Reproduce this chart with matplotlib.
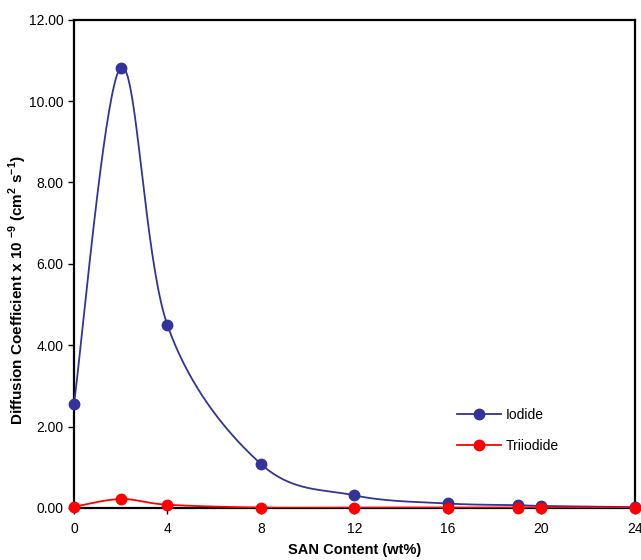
"""
Diffusion coefficients of iodide and triiodide vs SAN content
"""

import numpy as np
import matplotlib
matplotlib.use("Agg")
import matplotlib.pyplot as plt

plt.rcParams['font.family'] = ['Liberation Sans', 'DejaVu Sans']
plt.rcParams['mathtext.fontset'] = 'custom'
plt.rcParams['mathtext.rm'] = 'Liberation Sans'
plt.rcParams['mathtext.bf'] = 'Liberation Sans:bold'

# Data
san_content = [0, 2, 4, 8, 12, 16, 19, 20, 24]
iodide = [2.56, 10.82, 4.49, 1.08, 0.31, 0.11, 0.07, 0.05, 0.02]
triiodide = [0.03, 0.22, 0.08, 0.01, 0.01, 0.01, 0.01, 0.01, 0.01]
x_ticks = [0, 4, 8, 12, 16, 20, 24]
y_ticks = [0, 2, 4, 6, 8, 10, 12]


def smooth(x, y, n=40):
    """Excel-like smoothed line (cubic bezier between points)."""
    x = np.asarray(x, float)
    y = np.asarray(y, float)
    pts = np.column_stack([x, y])
    out = []
    for i in range(len(pts) - 1):
        p0 = pts[i - 1] if i > 0 else pts[i]
        p1 = pts[i]
        p2 = pts[i + 1]
        p3 = pts[i + 2] if i + 2 < len(pts) else pts[i + 1]
        c1 = p1 + (p2 - p0) / 6
        c2 = p2 - (p3 - p1) / 6
        t = np.linspace(0, 1, n)[:, None]
        seg = ((1 - t) ** 3) * p1 + 3 * ((1 - t) ** 2) * t * c1 \
            + 3 * (1 - t) * t ** 2 * c2 + t ** 3 * p2
        out.append(seg if i == 0 else seg[1:])
    res = np.vstack(out)
    return res[:, 0], res[:, 1]


fig = plt.figure(figsize=(6.41, 5.6), dpi=100)
ax = fig.add_axes([0.1154, 0.0929, 0.875, 0.872])

blue = '#333399'
red = '#ff0000'

sx, sy = smooth(san_content, iodide)
ax.plot(sx, sy, color=blue, lw=1.3, zorder=3)
ax.plot(san_content, iodide, 'o', color=blue, ms=7.5, zorder=4, clip_on=False)

tx, ty = smooth(san_content, triiodide)
ax.plot(tx, ty, color=red, lw=1.3, zorder=5)
ax.plot(san_content, triiodide, 'o', color=red, ms=7.5, zorder=6, clip_on=False)

# legend handles
ax.plot([], [], '-o', color=blue, lw=1.3, ms=7.5, label='Iodide')
ax.plot([], [], '-o', color=red, lw=1.3, ms=7.5, label='Triiodide')
ax.legend(loc='upper left', bbox_to_anchor=(0.66, 0.23), frameon=False,
          fontsize=10, handlelength=3.2, labelspacing=1.2, handletextpad=0.3)

ax.set_xlim(0, 24)
ax.set_ylim(0, 12)
ax.set_xticks(x_ticks)
ax.set_yticks(y_ticks)
ax.set_yticklabels([f"{v:.2f}" for v in y_ticks])
ax.tick_params(axis='both', labelsize=10, length=4, width=1, direction='out')
ax.tick_params(axis='x', pad=6)
for s in ax.spines.values():
    s.set_linewidth(1.6)

ax.set_xlabel('SAN Content (wt%)', fontsize=10.5, fontweight='bold', labelpad=5)
ax.set_ylabel(r'Diffusion Coefficient x 10 $^{\mathbf{-9}}$ (cm$^{\mathbf{2}}$ s$^{\mathbf{-1}}$)',
              fontsize=11, fontweight='bold')
ax.yaxis.set_label_coords(-0.08, 0.446)

fig.savefig('out.png', dpi=100)
